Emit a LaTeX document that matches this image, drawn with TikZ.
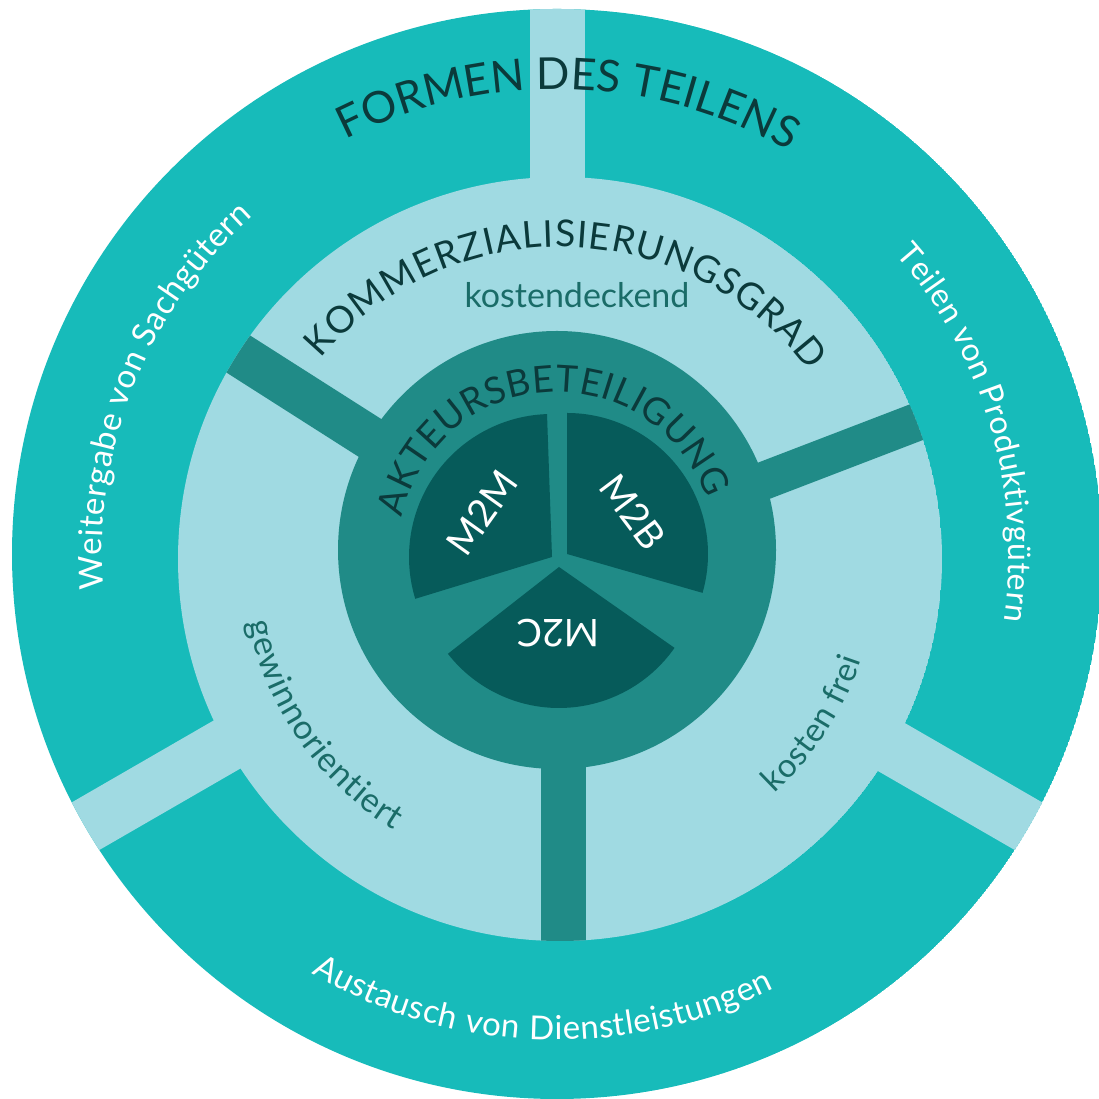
\documentclass[tikz,border=0pt]{standalone}
\usepackage{fontspec}
\setmainfont{Lato}
\usetikzlibrary{decorations.text}
\definecolor{outerc}{HTML}{17BBBA}
\definecolor{lightc}{HTML}{A0DAE2}
\definecolor{midc}{HTML}{208B87}
\definecolor{darkc}{HTML}{065B5A}
\definecolor{headc}{HTML}{0B3A3B}
\definecolor{subc}{HTML}{1A6C68}
\newcommand{\fsz}[1]{\fontsize{#1}{#1}\selectfont}
\begin{document}
\begin{tikzpicture}[x=1pt,y=1pt,
  sectorlabel/.style={text=white, font=\fsz{38}, inner sep=0pt},
  ringlabel/.style={text=subc, font=\fsz{34}, inner sep=0pt}]
\useasboundingbox (0,0) rectangle (1098,1099);
\fill[white] (0,0) rectangle (1098,1099);
\coordinate (O1) at (557,545);
\coordinate (O2) at (560,540);
\coordinate (O3) at (557,549);
% outer ring with light separators
\begin{scope}
  \clip (O1) circle (545);
  \fill[outerc] (O1) circle (545);
  \foreach \a in {90,210,330}{
    \fill[lightc, shift={(O1)}, rotate=\a] (0,-27.5) rectangle (600,27.5);
  }
\end{scope}
% middle ring with dark separators
\begin{scope}
  \clip (O2) circle (382);
  \fill[lightc] (O2) circle (382);
  \fill[midc, shift={(O2)}, rotate=147.5] (0,-22) rectangle (420,22);
  \fill[midc, shift={(O2)}, rotate=21] (0,-19) rectangle (420,19);
  \fill[midc, shift={(O2)}, xshift=3, rotate=270] (0,-22.5) rectangle (420,22.5);
\end{scope}
% inner disc
\fill[midc] (O3) circle (219);
% sectors
\fill[darkc] (552,542) -- ++(92:143) arc[start angle=92, end angle=197, radius=143] -- cycle;
\fill[darkc] (567,545) -- ++(-16:141) arc[start angle=-16, end angle=90, radius=141] -- cycle;
\fill[darkc] (559,532) -- ++(218:141) arc[start angle=218, end angle=325, radius=141] -- cycle;
% sector labels
\node[sectorlabel, rotate=54.5] (m2m) at (482,586) {M2M};
\node[sectorlabel, rotate=-53] (m2b) at (633,587) {M2B};
\node[sectorlabel, rotate=180] (m2c) at (558,466) {M2C};
% curved texts
\path[shift={(O1)}, decorate, decoration={text along path, text align={fit to path}, text color=headc,
  text={|\fsz{44}|FORMEN DES TEILENS}}]
  (117:465) arc[start angle=117, end angle=61, radius=465];
\path[shift={(O1)}, decorate, decoration={text along path, text align={fit to path}, text color=white,
  text={|\fsz{33}|Weitergabe von Sachgütern}}]
  (184.5:455) arc[start angle=184.5, end angle=132, radius=455];
\path[shift={(O1)}, decorate, decoration={text along path, text align={fit to path}, text color=white,
  text={|\fsz{32}|Teilen von Produktivgütern}}]
  (41.5:452) arc[start angle=41.5, end angle=-8.5, radius=452];
\path[shift={(O1)}, decorate, decoration={text along path, text align={fit to path}, text color=white,
  text={|\fsz{33}|Austausch von Dienstleistungen}}]
  (239.6:486) arc[start angle=239.6, end angle=296.5, radius=486];
\path[shift={(O2)}, decorate, decoration={text along path, text align={fit to path}, text color=headc,
  text={|\fsz{37}|KOMMERZIALISIERUNGSGRAD}}]
  (140:312) arc[start angle=140, end angle=37, radius=312];
\path[shift={(O2)}, decorate, decoration={text along path, text align={fit to path}, text color=subc,
  text={|\fsz{34}|gewinnorientiert}}]
  (191.5:318) arc[start angle=191.5, end angle=238.5, radius=318];
\path[shift={(O2)}, decorate, decoration={text along path, text align={fit to path}, text color=subc,
  text={|\fsz{33}|kosten frei}}]
  (-47.5:318) arc[start angle=-47.5, end angle=-18.5, radius=318];
\path[shift={(O3)}, decorate, decoration={text along path, text align={fit to path}, text color=headc,
  text={|\fsz{37}|AKTEURSBETEILIGUNG}}]
  (168:158) arc[start angle=168, end angle=19, radius=158];
% straight text
\node[ringlabel, anchor=base] (kd) at (577,791) {kostendeckend};
\end{tikzpicture}
\end{document}
